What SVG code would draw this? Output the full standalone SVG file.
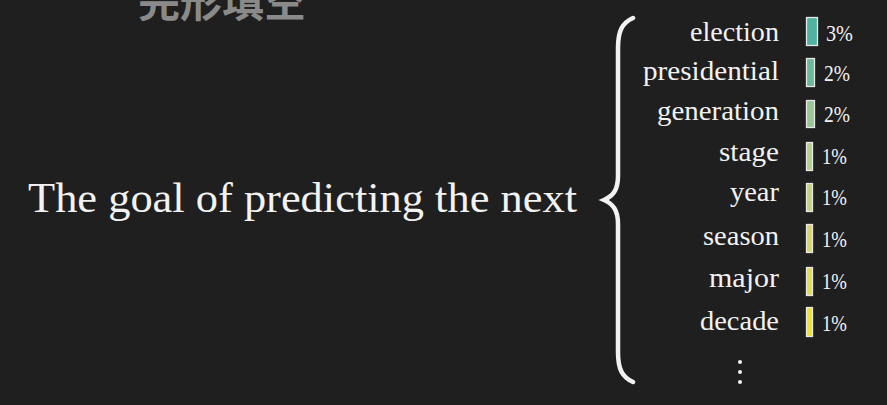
<svg xmlns="http://www.w3.org/2000/svg" width="887" height="405" viewBox="0 0 887 405">
<style>
.w{font-family:"Liberation Serif","DejaVu Serif",serif;fill:#f2f2f2;font-size:27px}
.p{font-family:"Liberation Serif","DejaVu Serif",serif;fill:#f2f2f2;font-size:23px}
.bar{stroke:#e8e8e8;stroke-width:1.3}
</style>
<rect width="887" height="405" fill="#1f1f1f"/>
<text x="138" y="17" textLength="168" lengthAdjust="spacingAndGlyphs" style="font-family:'Noto Sans CJK SC',sans-serif;font-weight:bold;font-size:42px;fill:#8a8a8a">完形填空</text>
<g id="sentence">
<text x="28" y="212" textLength="549" lengthAdjust="spacingAndGlyphs" style="font-family:'Liberation Serif','DejaVu Serif',serif;font-size:42px;fill:#f2f2f2">The goal of predicting the next</text>
</g>
<g id="brace">
<path d="M633,18 C622,23 618,31 618,48 L618,176 C618,190 613,196 604,200 C613,204 618,210 618,224 L618,352 C618,369 622,377 633,382" fill="none" stroke="#f2f2f2" stroke-width="4.5" stroke-linecap="round"/>
</g>
<g id="w-election"><text class="w" x="690" y="41" textLength="89" lengthAdjust="spacingAndGlyphs">election</text><rect class="bar" x="806.5" y="17.5" width="11" height="28" fill="#4fb3a0"/><text class="p" x="826" y="41" textLength="27" lengthAdjust="spacingAndGlyphs">3%</text></g>
<g id="w-presidential"><text class="w" x="643" y="80" textLength="136" lengthAdjust="spacingAndGlyphs">presidential</text><rect class="bar" x="806.5" y="58.5" width="8" height="28" fill="#6cb99a"/><text class="p" x="824" y="81" textLength="26" lengthAdjust="spacingAndGlyphs">2%</text></g>
<g id="w-generation"><text class="w" x="657" y="120" textLength="122" lengthAdjust="spacingAndGlyphs">generation</text><rect class="bar" x="806.5" y="100.5" width="8" height="27" fill="#98c794"/><text class="p" x="824" y="122" textLength="26" lengthAdjust="spacingAndGlyphs">2%</text></g>
<g id="w-stage"><text class="w" x="719" y="161" textLength="60" lengthAdjust="spacingAndGlyphs">stage</text><rect class="bar" x="806.5" y="142.5" width="6" height="28" fill="#b5cf8d"/><text class="p" x="822" y="164" textLength="25" lengthAdjust="spacingAndGlyphs">1%</text></g>
<g id="w-year"><text class="w" x="730" y="201" textLength="49" lengthAdjust="spacingAndGlyphs">year</text><rect class="bar" x="806.5" y="183.5" width="6" height="28" fill="#c7d27f"/><text class="p" x="822" y="205" textLength="25" lengthAdjust="spacingAndGlyphs">1%</text></g>
<g id="w-season"><text class="w" x="703" y="245" textLength="76" lengthAdjust="spacingAndGlyphs">season</text><rect class="bar" x="806.5" y="224.5" width="6" height="28" fill="#d6d86e"/><text class="p" x="822" y="247" textLength="25" lengthAdjust="spacingAndGlyphs">1%</text></g>
<g id="w-major"><text class="w" x="709" y="287" textLength="70" lengthAdjust="spacingAndGlyphs">major</text><rect class="bar" x="806.5" y="267.5" width="6" height="28" fill="#e0dc55"/><text class="p" x="822" y="289" textLength="25" lengthAdjust="spacingAndGlyphs">1%</text></g>
<g id="w-decade"><text class="w" x="700" y="330" textLength="79" lengthAdjust="spacingAndGlyphs">decade</text><rect class="bar" x="806.5" y="307.5" width="6" height="29" fill="#eee232"/><text class="p" x="822" y="331" textLength="25" lengthAdjust="spacingAndGlyphs">1%</text></g>
<g id="dots" fill="#f2f2f2"><circle cx="740" cy="362" r="2"/><circle cx="740" cy="372" r="2"/><circle cx="740" cy="382" r="2"/></g>
</svg>
